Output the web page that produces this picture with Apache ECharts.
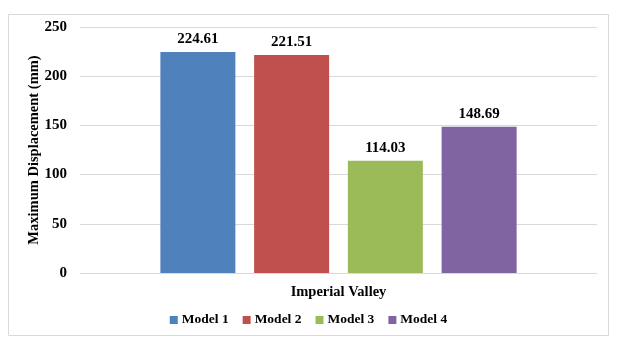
<!DOCTYPE html>
<html>
<head>
<meta charset="utf-8">
<script src="https://cdn.jsdelivr.net/npm/echarts@6/dist/echarts.min.js"></script>
<style>
  html, body { margin: 0; padding: 0; background: #fff; }
  #chart { width: 617px; height: 341px; }
</style>
</head>
<body>
<div id="chart"></div>
<script>
// Site and model results (maximum displacement, mm)
const categories = ['Imperial Valley'];
const seriesNames = ['Model 1', 'Model 2', 'Model 3', 'Model 4'];
const model1 = [224.61];
const model2 = [221.51];
const model3 = [114.03];
const model4 = [148.69];
const yTicks = [0, 50, 100, 150, 200, 250];

const colors = ['#4F81BD', '#C0504D', '#9BBB59', '#8064A2'];
const values = [model1, model2, model3, model4];
const font = '"Liberation Serif", "DejaVu Serif", serif';

const chart = echarts.init(document.getElementById('chart'), null, { renderer: 'canvas' });

chart.setOption({
  animation: false,
  backgroundColor: '#ffffff',
  graphic: [{
    type: 'rect',
    shape: { x: 8.5, y: 14.5, width: 600, height: 321 },
    style: { fill: 'none', stroke: '#d9d9d9', lineWidth: 1 },
    silent: true,
    z: -1
  }],
  grid: { left: 80, right: 20, top: 27, bottom: 68 },
  legend: {
    bottom: 9,
    left: 'center',
    itemWidth: 8,
    itemHeight: 8,
    itemGap: 14,
    icon: 'rect',
    textStyle: { fontFamily: font, fontWeight: 'bold', fontSize: 13.5, color: '#000', padding: [0, 0, 0, -1] },
    data: seriesNames
  },
  xAxis: {
    type: 'category',
    data: categories,
    axisLine: { show: false },
    axisTick: { show: false },
    axisLabel: { margin: 12, fontFamily: font, fontWeight: 'bold', fontSize: 14.5, color: '#000' }
  },
  yAxis: {
    type: 'value',
    min: yTicks[0],
    max: yTicks[yTicks.length - 1],
    interval: yTicks[1] - yTicks[0],
    name: 'Maximum Displacement (mm)',
    nameLocation: 'middle',
    nameGap: 38,
    nameMoveOverlap: false,
    nameTextStyle: { fontFamily: font, fontWeight: 'bold', fontSize: 14.5, color: '#000' },
    axisLine: { show: false },
    axisTick: { show: false },
    axisLabel: { margin: 13, fontFamily: font, fontWeight: 'bold', fontSize: 15, color: '#000' },
    splitLine: { lineStyle: { color: '#d9d9d9', width: 1 } }
  },
  series: seriesNames.map((name, i) => ({
    name: name,
    type: 'bar',
    data: values[i],
    barWidth: 75,
    barGap: '25%',
    itemStyle: { color: colors[i] },
    label: {
      show: true,
      position: 'top',
      distance: 5,
      formatter: p => p.value.toFixed(2),
      fontFamily: font,
      fontWeight: 'bold',
      fontSize: 15,
      color: '#000'
    }
  }))
});
</script>
</body>
</html>
